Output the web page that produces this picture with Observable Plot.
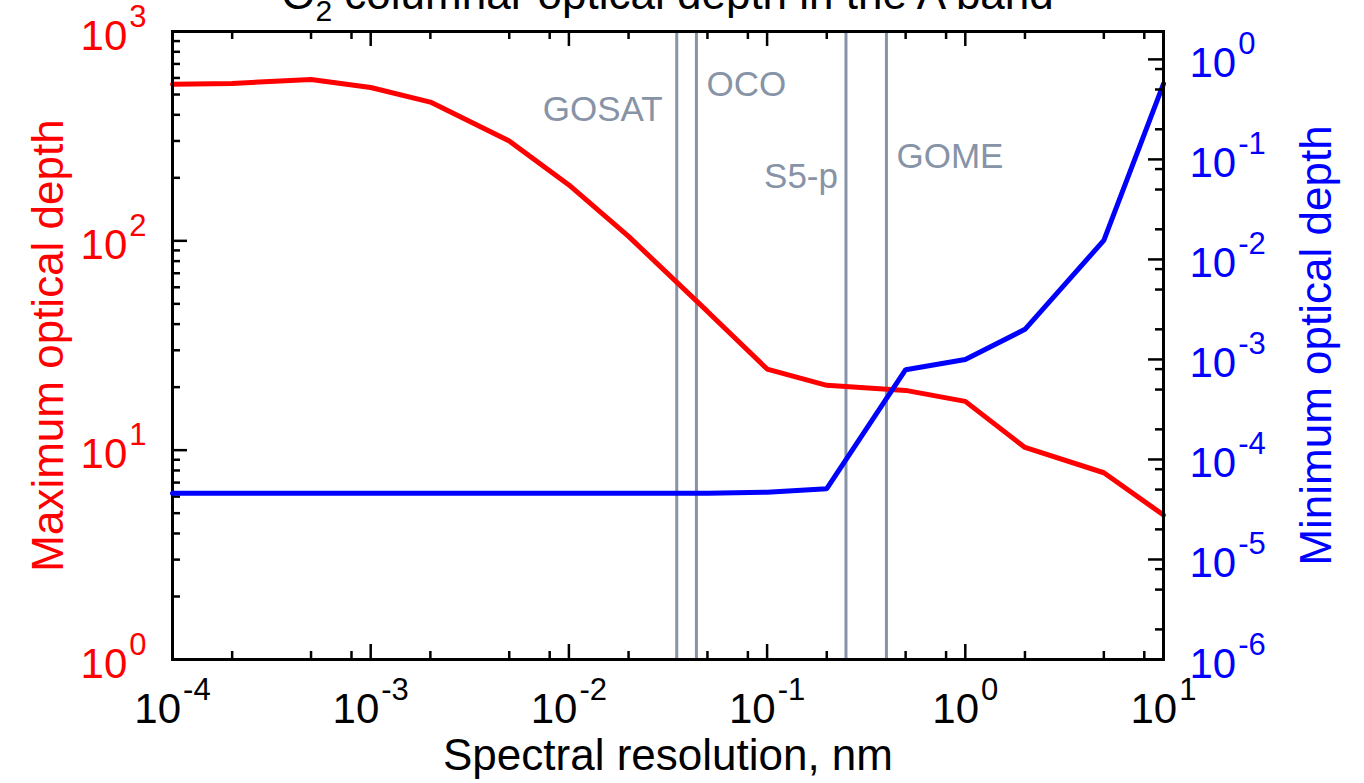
<!DOCTYPE html>
<html>
<head>
<meta charset="utf-8">
<script src="https://cdn.jsdelivr.net/npm/d3@7"></script>
<script src="https://cdn.jsdelivr.net/npm/@observablehq/plot@0.6"></script>
<style>
  html, body { margin: 0; padding: 0; background: #fff; }
  #wrap { position: relative; width: 1364px; height: 783px; overflow: hidden; font-family: "Liberation Sans", Arial, sans-serif; }
  #wrap svg { position: absolute; top: 0; left: 0; overflow: visible; background: transparent; }
  #title { position: absolute; left: 0; width: 1335px; top: -28px; text-align: center; font-size: 44px; line-height: 44px; color: #000; z-index: 5; white-space: nowrap; }
  #title sub { font-size: 30px; vertical-align: -12px; line-height: 0; }
</style>
</head>
<body>
<div id="wrap">
  <div id="title">O<sub>2</sub> columnar optical depth in the A band</div>
</div>
<script>
// ---- data ----
const resolution = [1e-4, 2e-4, 5e-4, 1e-3, 2e-3, 5e-3, 1e-2, 2e-2, 5e-2, 0.1, 0.2, 0.5, 1, 2, 5, 10];
const maxDepth   = [560, 565, 590, 540, 460, 300, 185, 105, 46, 24.4, 20.4, 19.3, 17.1, 10.3, 7.8, 4.9];
const minDepth   = [4.6e-5, 4.6e-5, 4.6e-5, 4.6e-5, 4.6e-5, 4.6e-5, 4.6e-5, 4.6e-5, 4.6e-5, 4.7e-5, 5.1e-5, 7.9e-4, 1.0e-3, 2.0e-3, 1.55e-2, 0.57];
const instruments   = ["GOSAT", "OCO", "S5-p", "GOME"];
const instrumentRes = [0.035, 0.044, 0.25, 0.4];
const xMajorTicks = [1e-4, 1e-3, 1e-2, 1e-1, 1, 10];
const xMinorTicks = [2e-4, 5e-4, 8e-4, 2e-3, 5e-3, 8e-3, 2e-2, 5e-2, 8e-2, 0.2, 0.5, 0.8, 2, 5, 8];
const leftMajorTicks = [1, 10, 100, 1000];
const leftMinorTicks = [2, 3, 4, 5, 6, 7, 8, 9, 20, 30, 40, 50, 60, 70, 80, 90, 200, 300, 400, 500, 600, 700, 800, 900];
const rightMajorTicks = [1e-6, 1e-5, 1e-4, 1e-3, 1e-2, 1e-1, 1];
const rightMinorTicks = [2e-6, 5e-6, 8e-6, 2e-5, 5e-5, 8e-5, 2e-4, 5e-4, 8e-4, 2e-3, 5e-3, 8e-3, 2e-2, 5e-2, 8e-2, 0.2, 0.5, 0.8];

// ---- layout / style ----
const W = 1364, H = 783;
const M = {top: 31, right: 201, bottom: 124, left: 172};
const FW = W - M.left - M.right, FH = H - M.top - M.bottom;
const RED = "#ff0000", BLUE = "#0000ff", GRAY = "#8793a6";
const TICK_FONT = 42, EXP_FONT = 31, EXP_SHIFT = -23;
const MAJ = 15, MIN = 8;
const labelStyle = {
  "GOSAT": {textAnchor: "end", dx: -14, dy: 89},
  "OCO":   {textAnchor: "start", dx: 10, dy: 64},
  "S5-p":  {textAnchor: "end", dx: -8, dy: 156},
  "GOME":  {textAnchor: "start", dx: 10, dy: 136}
};
const series = resolution.map((r, i) => ({r, maxD: maxDepth[i], minD: minDepth[i]}));
const inst = instruments.map((name, i) => ({name, r: instrumentRes[i]}));
const expLabel = d => "10^" + Math.round(Math.log10(d));

const common = {
  width: W, height: H,
  marginTop: M.top, marginRight: M.right, marginBottom: M.bottom, marginLeft: M.left,
  x: {type: "log", domain: [1e-4, 10], axis: null},
  style: {fontFamily: "Liberation Sans, Arial, sans-serif", background: "transparent", overflow: "visible"}
};

const plotLeft = Plot.plot({
  ...common,
  y: {type: "log", domain: [1, 1000], axis: null},
  marks: [
    Plot.ruleX(inst, {x: "r", stroke: GRAY, strokeWidth: 3}),
    ...inst.map(d => Plot.text([d], {x: "r", text: "name", frameAnchor: "top", lineAnchor: "bottom",
      fill: GRAY, fontSize: 35, ...labelStyle[d.name]})),
    Plot.line(series, {x: "r", y: "maxD", stroke: RED, strokeWidth: 5, strokeLinejoin: "miter"}),
    // x ticks bottom/top
    Plot.tickX(xMajorTicks, {x: d => d, insetTop: FH - MAJ, stroke: "black", strokeWidth: 2.5}),
    Plot.tickX(xMinorTicks, {x: d => d, insetTop: FH - MIN, stroke: "black", strokeWidth: 2.5}),
    Plot.tickX(xMajorTicks, {x: d => d, insetBottom: FH - MAJ, stroke: "black", strokeWidth: 2.5}),
    Plot.tickX(xMinorTicks, {x: d => d, insetBottom: FH - MIN, stroke: "black", strokeWidth: 2.5}),
    // left ticks
    Plot.tickY(leftMajorTicks, {y: d => d, insetRight: FW - MAJ, stroke: "black", strokeWidth: 2.5}),
    Plot.tickY(leftMinorTicks, {y: d => d, insetRight: FW - MIN, stroke: "black", strokeWidth: 2.5}),
    Plot.frame({stroke: "black", strokeWidth: 3}),
    // tick labels
    Plot.text(xMajorTicks, {x: d => d, text: expLabel, frameAnchor: "bottom", lineAnchor: "bottom",
      dy: 63, fontSize: TICK_FONT, fill: "black", textAnchor: "middle"}),
    Plot.text(leftMajorTicks, {y: d => d, text: expLabel, frameAnchor: "left", lineAnchor: "bottom",
      textAnchor: "end", dx: -26, dy: 18, fontSize: TICK_FONT, fill: RED}),
    // axis titles
    Plot.text(["Spectral resolution, nm"], {text: d => d, frameAnchor: "bottom", lineAnchor: "bottom",
      textAnchor: "middle", dy: 110, fontSize: 44, fill: "black"}),
    Plot.text(["Maximum optical depth"], {text: d => d, frameAnchor: "left", rotate: -90,
      textAnchor: "middle", lineAnchor: "middle", dx: -124, fontSize: 44, fill: RED})
  ]
});

const plotRight = Plot.plot({
  ...common,
  y: {type: "log", domain: [1e-6, 1.9], axis: null},
  marks: [
    Plot.line(series, {x: "r", y: "minD", stroke: BLUE, strokeWidth: 5, strokeLinejoin: "miter"}),
    Plot.tickY(rightMajorTicks, {y: d => d, insetLeft: FW - MAJ, stroke: "black", strokeWidth: 2.5}),
    Plot.tickY(rightMinorTicks, {y: d => d, insetLeft: FW - MIN, stroke: "black", strokeWidth: 2.5}),
    Plot.ruleX([10], {x: d => d, stroke: "black", strokeWidth: 3}),
    Plot.text(rightMajorTicks, {y: d => d, text: expLabel, frameAnchor: "right", lineAnchor: "bottom",
      textAnchor: "start", dx: 26, dy: 18, fontSize: TICK_FONT, fill: BLUE}),
    Plot.text(["Minimum optical depth"], {text: d => d, frameAnchor: "right", rotate: -90,
      textAnchor: "middle", lineAnchor: "middle", dx: 153, fontSize: 44, fill: BLUE})
  ]
});

const wrap = document.getElementById("wrap");
wrap.appendChild(plotLeft);
wrap.appendChild(plotRight);

// turn "10^k" into 10 with a raised exponent
for (const t of wrap.querySelectorAll("svg text")) {
  const s = t.textContent;
  if (!/^10\^/.test(s)) continue;
  const [base, ex] = s.split("^");
  t.textContent = base;
  const sp = document.createElementNS("http://www.w3.org/2000/svg", "tspan");
  sp.setAttribute("dy", EXP_SHIFT);
  sp.setAttribute("font-size", EXP_FONT);
  sp.setAttribute("dx", 2);
  sp.textContent = ex;
  t.appendChild(sp);
}
</script>
</body>
</html>
